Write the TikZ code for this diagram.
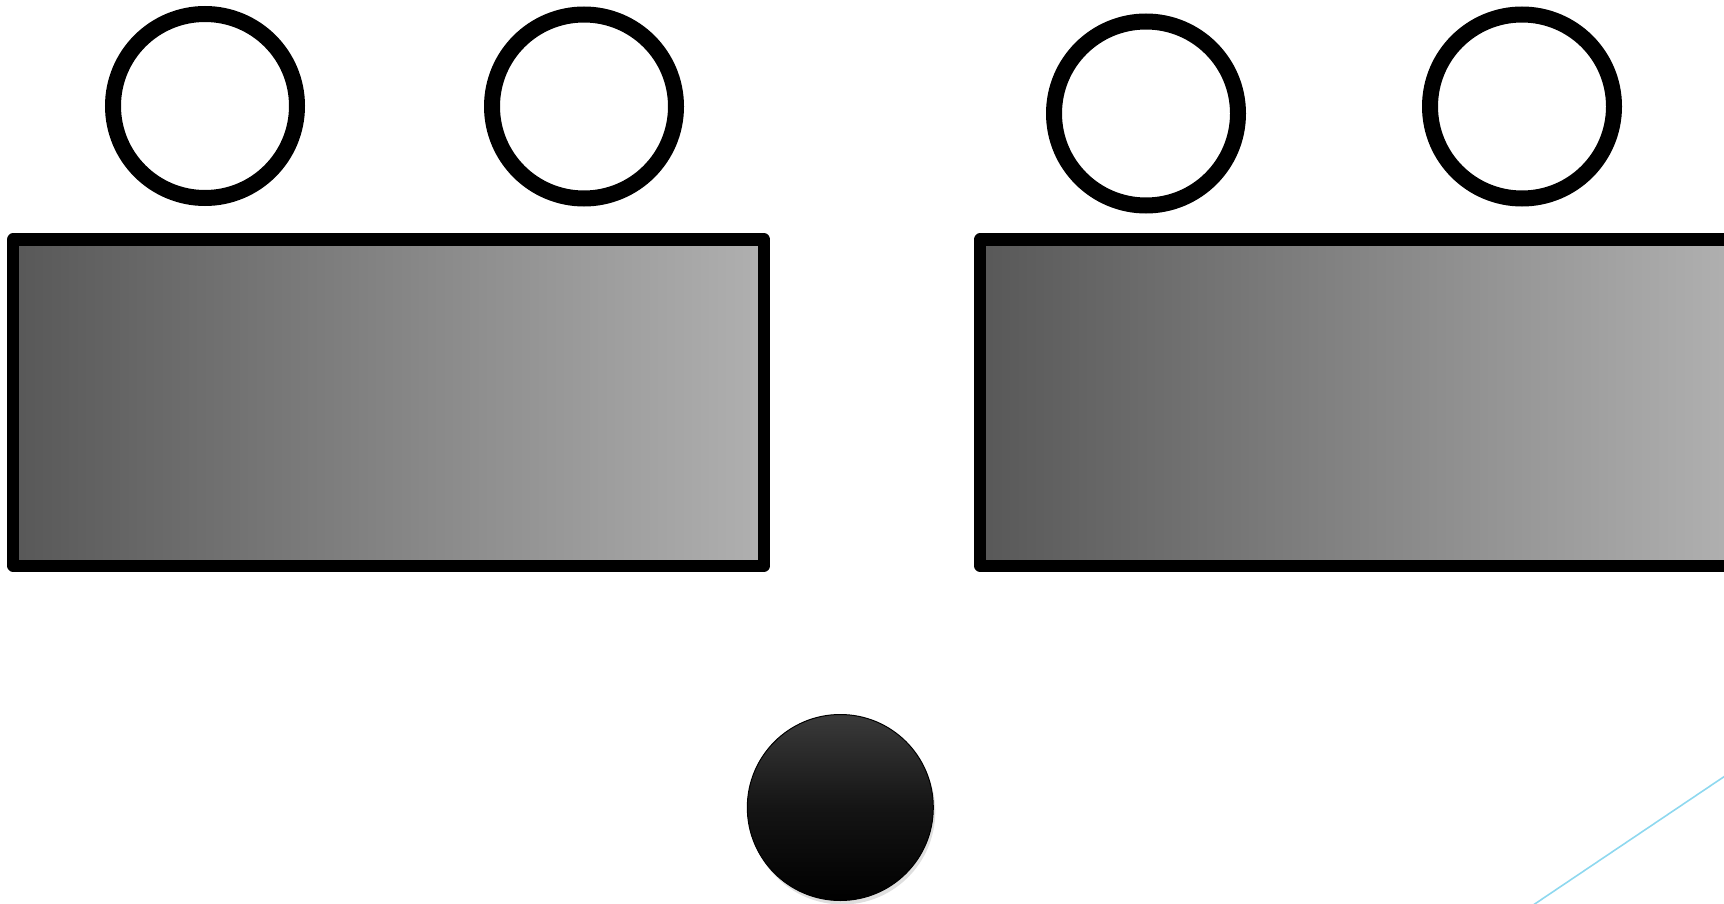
\documentclass[tikz,border=0pt]{standalone}
\usetikzlibrary{shadows}

\definecolor{slabdark}{HTML}{585858}
\definecolor{slablight}{HTML}{B0B0B0}
\definecolor{balltop}{HTML}{3A3A3A}
\definecolor{wire}{HTML}{8ED8EF}

\begin{document}
\begin{tikzpicture}[
    x=1pt, y=-1pt,
    ring/.style={
        circle, draw=black, line width=16pt, fill=white,
        minimum size=184pt, inner sep=0pt
    },
    slab/.style={
        rectangle, draw=black, line width=12pt, line join=round,
        minimum width=751pt, minimum height=326pt, inner sep=0pt,
        left color=slabdark, right color=slablight
    },
    ball/.style={
        circle, draw=black, line width=1pt, minimum size=186pt, inner sep=0pt,
        top color=balltop, bottom color=black, middle color=black!92,
        drop shadow={shadow xshift=2pt, shadow yshift=-4pt, opacity=0.25, fill=gray}
    },
    line/.style={draw=wire, line width=1.6pt}
]
\useasboundingbox (0,0) rectangle (1724,904);
% Rings above the slabs
\node[ring] (r1) at (205,106) {};
\node[ring] (r2) at (584,106.5) {};
\node[ring] (r3) at (1146,113.5) {};
\node[ring] (r4) at (1522,106.5) {};
% Shaded slabs
\node[slab] (s1) at (388.7,402.5) {};
\node[slab] (s2) at (1355.5,402.5) {};
% Ball below the gap
\node[ball] (b) at (840.3,807.5) {};
% Thin line at the corner
\coordinate (w1) at (1531,906.5);
\coordinate (w2) at (1728,774);
\draw[line] (w1) -- (w2);
\end{tikzpicture}
\end{document}
